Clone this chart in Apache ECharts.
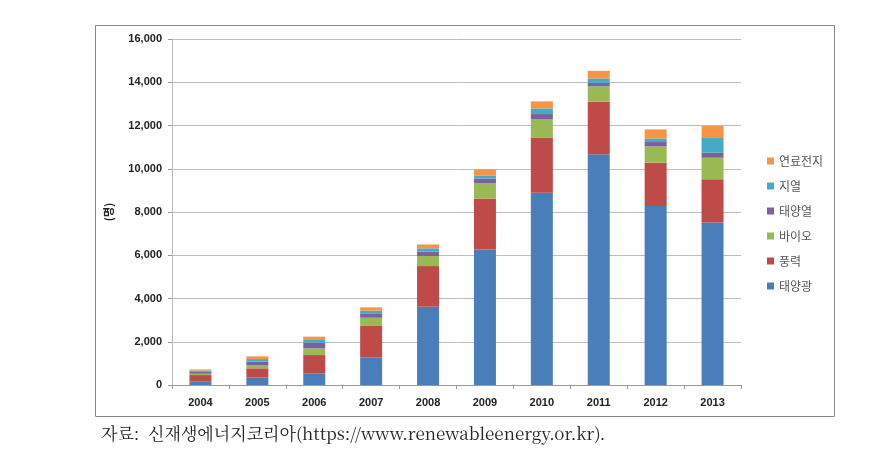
<!DOCTYPE html>
<html><head><meta charset="utf-8">
<script src="https://cdn.jsdelivr.net/npm/echarts@6/dist/echarts.min.js"></script>
<style>html,body{margin:0;padding:0;background:#fff}#c{width:881px;height:462px}</style>
</head><body><div id="c"></div>
<script>
const years = ['2004','2005','2006','2007','2008','2009','2010','2011','2012','2013'];
const solarPV   = [150, 340, 540, 1280, 3620, 6270, 8890, 10670, 8280, 7520];
const wind      = [310, 430, 845, 1450, 1880, 2360, 2540, 2430, 2000, 1990];
const bio       = [60, 155, 310, 380, 465, 700, 870, 710, 755, 1000];
const solarHeat = [110, 155, 260, 205, 200, 210, 230, 165, 200, 230];
const geo       = [40, 120, 125, 120, 155, 150, 260, 205, 165, 680];
const fuelCell  = [50, 125, 155, 155, 180, 280, 325, 350, 420, 555];
const seriesNames = ['태양광','풍력','바이오','태양열','지열','연료전지'];
const seriesData = [solarPV, wind, bio, solarHeat, geo, fuelCell];
const colors = ['#4A7EBB','#BE4B48','#98B954','#7D60A0','#46AAC5','#F69545'];
const yTicks = [0, 2000, 4000, 6000, 8000, 10000, 12000, 14000, 16000];

const chart = echarts.init(document.getElementById('c'));
chart.setOption({
  animation: false,
  backgroundColor: '#fff',
  grid: { left: 172, right: 140, top: 39, bottom: 77 },
  legend: {
    orient: 'vertical', left: 762, top: 150,
    data: seriesNames.slice().reverse(),
    itemWidth: 7, itemHeight: 7, itemGap: 13,
    icon: 'rect',
    textStyle: { fontFamily: 'Noto Sans CJK KR', fontSize: 12, color: '#555' }
  },
  xAxis: {
    type: 'category', data: years,
    axisLine: { lineStyle: { color: '#999' } },
    axisTick: { show: true, alignWithLabel: false, length: 4, lineStyle: { color: '#999' } },
    axisLabel: { fontFamily: 'Liberation Sans', fontWeight: 'bold', fontSize: 11, color: '#222', margin: 12 }
  },
  yAxis: {
    type: 'value', min: 0, max: 16000, interval: 2000,
    name: '(명)', nameLocation: 'middle', nameGap: 58, nameRotate: 90,
    nameTextStyle: { fontFamily: 'Noto Sans CJK KR', fontWeight: 'bold', fontSize: 11, color: '#222' },
    axisLine: { show: true, lineStyle: { color: '#bbb' } },
    axisTick: { show: true, length: 4, lineStyle: { color: '#999' } },
    splitLine: { lineStyle: { color: '#bdbdbd', width: 1 } },
    axisLabel: {
      fontFamily: 'Liberation Sans', fontWeight: 'bold', fontSize: 11, color: '#222', margin: 10,
      formatter: v => yTicks.includes(v) ? v.toLocaleString('en-US') : ''
    }
  },
  series: seriesData.map((d, i) => ({
    name: seriesNames[i], type: 'bar', stack: 'total', data: d,
    barWidth: 22, itemStyle: { color: colors[i] }
  })),
  graphic: [
    { type: 'rect', left: 93, top: 23, shape: { width: 739, height: 391 },
      style: { fill: 'none', stroke: '#888', lineWidth: 1 }, silent: true },
    { type: 'text', left: 101, top: 425,
      style: { text: '자료:  신재생에너지코리아(https://www.renewableenergy.or.kr).',
        font: '17px "Noto Serif CJK KR", "Noto Sans CJK KR", serif', fill: '#222' } }
  ]
});
</script></body></html>
